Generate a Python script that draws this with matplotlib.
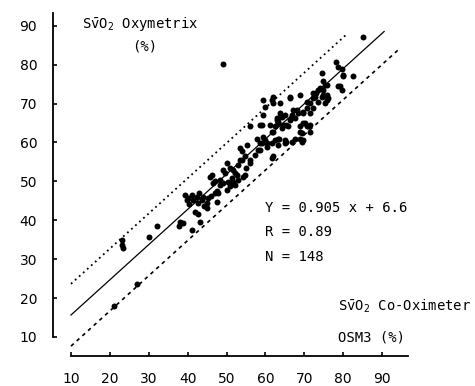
# < imports >----------------------------------------------------------------------------------

import matplotlib
matplotlib.use("Agg")
import matplotlib.pyplot as plt
import numpy as np

# < data >-------------------------------------------------------------------------------------

# SvO2 Co-Oximeter OSM3 (%) - x values
X_OSM3 = [
    21.0, 23.0, 23.2, 23.4, 27.0, 30.0, 32.0, 37.8,
    38.0, 38.9, 39.3, 39.7, 40.2, 40.4, 41.0, 41.4, 41.9, 42.3, 42.7, 42.7, 43.2, 43.6, 44.0,
    44.2, 44.9, 44.9, 45.3, 46.0, 47.0, 47.5, 47.9, 47.5, 41.0, 43.0,
    45.7, 46.2, 46.6, 47.0, 48.3, 48.3, 49.2, 49.2, 49.6, 50.0, 50.0, 50.4, 50.9, 50.9, 51.3,
    51.7, 51.7, 52.2, 52.2, 52.6, 53.0, 53.0, 53.4, 53.4, 53.9, 53.9, 54.3, 54.7, 54.7, 55.2,
    56.0, 56.0, 57.3, 56.0, 57.7, 58.1, 58.6, 58.6, 59.0, 55.0,
    59.4, 59.9, 60.3, 60.3, 61.6, 61.6, 62.0, 62.4, 62.0, 61.6, 58.6, 59.0, 59.4, 61.2, 62.4,
    62.9, 63.3, 63.3, 64.2, 64.2, 64.6, 65.4, 65.9, 63.3, 63.5, 63.3, 65.0, 65.0, 65.4, 66.7,
    67.6, 68.9, 69.3, 69.7, 69.3, 68.9, 71.4, 71.0, 70.6, 71.4, 70.2, 69.7, 68.9, 66.7, 66.7,
    65.0, 63.7, 62.9, 63.7, 59.4, 59.9, 61.6, 62.0, 62.0, 63.7, 66.3, 66.3, 68.9, 66.3, 67.6,
    67.2, 68.0, 68.4, 69.7, 69.7, 70.6, 72.3, 71.4, 70.6, 71.4, 72.7,
    72.3, 72.3, 73.1, 73.6, 73.6, 74.0, 74.4, 74.4, 74.9, 74.9, 74.9, 75.3, 75.3, 75.7, 75.7,
    76.1, 75.7, 78.1, 78.7, 79.6, 79.8, 80.0, 82.6, 78.7, 79.6, 79.2, 85.0,
    49.2,
]

# SvO2 Oxymetrix (%) - y values
Y_OXYMETRIX = [
    18.0, 34.8, 33.6, 32.8, 23.6, 35.6, 38.6, 38.6,
    39.6, 39.4, 46.5, 45.2, 45.6, 44.2, 37.5, 45.2, 42.2, 46.1, 44.4, 41.6, 39.6, 45.2, 46.1,
    43.6, 44.4, 43.1, 45.6, 46.2, 46.9, 44.8, 46.9, 47.4, 46.6, 47.0,
    51.2, 51.6, 49.5, 50.0, 50.4, 49.0, 49.5, 52.9, 52.1, 54.6, 47.8, 49.9, 53.4, 48.7, 50.8,
    52.9, 49.9, 49.1, 52.1, 51.6, 54.2, 50.4, 55.5, 58.5, 55.5, 57.7, 51.2, 51.6, 56.4, 59.4,
    54.6, 55.5, 56.8, 64.1, 61.0, 58.1, 59.8, 58.1, 59.8, 53.5,
    61.5, 60.6, 59.8, 58.9, 59.8, 55.9, 56.4, 60.6, 62.8, 62.8, 64.5, 64.5, 67.1, 64.5, 64.1,
    65.8, 65.3, 64.9, 66.6, 63.6, 64.5, 64.5, 64.1, 61.0, 61.0, 59.4, 60.6, 59.8, 60.2, 60.2,
    61.0, 61.0, 60.2, 60.6, 62.3, 62.8, 62.8, 64.1, 64.1, 64.5, 64.9, 64.9, 64.1, 67.1, 66.6,
    67.1, 67.5, 66.2, 66.6, 70.9, 69.2, 70.9, 70.1, 71.8, 70.1, 71.8, 71.4, 72.2, 65.8, 66.2,
    68.4, 68.4, 67.5, 67.9, 67.5, 68.8, 68.8, 67.5, 70.5, 70.1, 71.8,
    71.4, 72.6, 72.6, 70.5, 73.5, 73.9, 71.8, 77.8, 75.7, 72.2, 73.5, 74.8, 70.1, 70.9, 72.2,
    71.4, 74.8, 80.6, 79.5, 78.8, 77.1, 77.4, 77.1, 74.4, 73.4, 74.4, 87.2,
    80.2,
]

# regression line and limits of agreement
SLOPE = 0.905
INTERCEPT = 6.6
BAND = 8.0
FIT_RANGE = [10, 90.5]
UPPER_RANGE = [10, 81.2]
LOWER_RANGE = [10, 94.1]

TICKS = [10, 20, 30, 40, 50, 60, 70, 80, 90]

# < plot >-------------------------------------------------------------------------------------

plt.rcParams["mathtext.fontset"] = "custom"
plt.rcParams["mathtext.rm"] = "DejaVu Sans Mono"
plt.rcParams["mathtext.it"] = "DejaVu Sans Mono"

MONO = "DejaVu Sans Mono"


def main():
    fig = plt.figure(figsize=(4.75, 3.86), dpi=100)
    ax = fig.add_axes([0, 0, 1, 1])
    ax.set_xlim(-8.25, 113.86)
    ax.set_ylim(-2.6, 96.6)

    # scatter
    ax.plot(X_OSM3, Y_OXYMETRIX, "o", color="black", ms=4.3, mew=0)

    # regression and limits
    xf = np.array(FIT_RANGE)
    ax.plot(xf, SLOPE * xf + INTERCEPT, color="black", lw=0.9)
    xu = np.array(UPPER_RANGE)
    ax.plot(xu, SLOPE * xu + INTERCEPT + BAND, color="black", lw=1.3, ls=(0, (1, 2)))
    xl = np.array(LOWER_RANGE)
    ax.plot(xl, SLOPE * xl + INTERCEPT - BAND, color="black", lw=1.2, ls=(0, (2.2, 2.4)))

    # detached axes
    for s in ["top", "right"]:
        ax.spines[s].set_visible(False)
    ax.spines["left"].set_position(("data", 5.4))
    ax.spines["left"].set_bounds(10, 93.3)
    ax.spines["bottom"].set_position(("data", 5.1))
    ax.spines["bottom"].set_bounds(10, 96.6)
    for s in ["left", "bottom"]:
        ax.spines[s].set_linewidth(1.3)

    ax.set_xticks(TICKS)
    ax.set_yticks(TICKS)
    ax.tick_params(axis="y", direction="in", length=3, width=1.2, pad=11.5, labelsize=10)
    ax.tick_params(axis="x", direction="in", length=3, width=1.2, pad=11.5, labelsize=10)

    # texts
    ax.text(12.8, 89.4, r"S$\bar{\mathrm{v}}$O$_{2}$ Oxymetrix", family=MONO, fontsize=10)
    ax.text(25.7, 83.5, "(%)", family=MONO, fontsize=10)
    ax.text(59.9, 43.2, "Y = 0.905 x + 6.6", family=MONO, fontsize=10, va="center")
    ax.text(59.9, 37.0, "R = 0.89", family=MONO, fontsize=10, va="center")
    ax.text(59.9, 30.6, "N = 148", family=MONO, fontsize=10, va="center")
    ax.text(78.6, 16.9, r"S$\bar{\mathrm{v}}$O$_{2}$ Co-Oximeter", family=MONO, fontsize=10)
    ax.text(78.6, 8.8, "OSM3 (%)", family=MONO, fontsize=10)

    fig.savefig("out.png", dpi=100)


if __name__ == "__main__":
    main()
